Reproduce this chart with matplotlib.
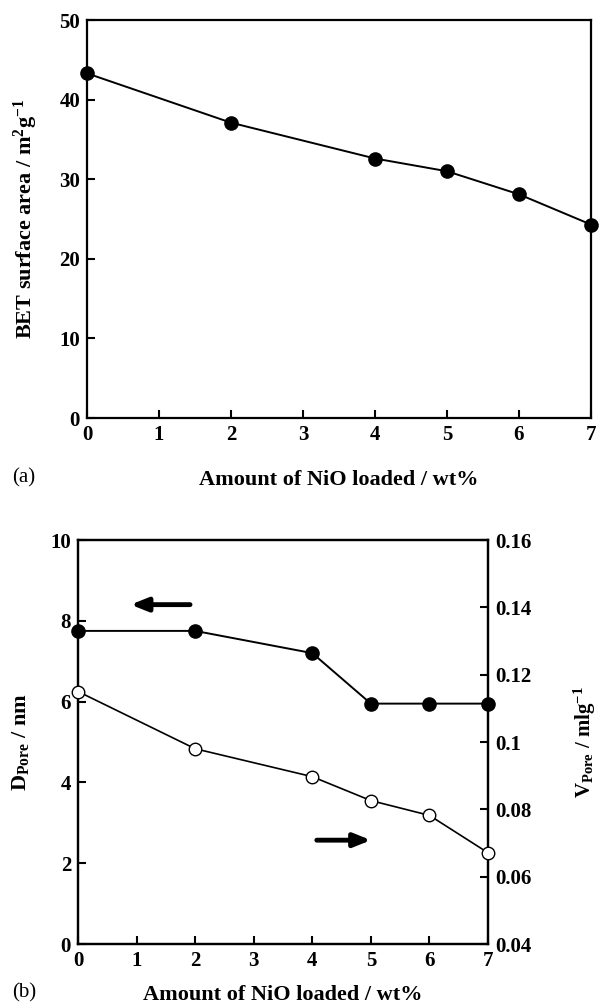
import numpy as np
import matplotlib.pyplot as plt

# (a) BET surface area
nio_a = [0, 2, 4, 5, 6, 7]
bet_area = [43.3, 37.1, 32.6, 31.0, 28.1, 24.3]

# (b) pore diameter (left axis) and pore volume (right axis)
nio_b = [0, 2, 4, 5, 6, 7]
d_pore = [7.75, 7.75, 7.2, 5.95, 5.95, 5.95]
v_pore = [0.115, 0.098, 0.0897, 0.0826, 0.0782, 0.0671]

x_ticks = [0, 1, 2, 3, 4, 5, 6, 7]
bet_ticks = [0, 10, 20, 30, 40, 50]
d_ticks = [0, 2, 4, 6, 8, 10]
v_ticks = [0.04, 0.06, 0.08, 0.1, 0.12, 0.14, 0.16]
v_labels = ['0.04', '0.06', '0.08', '0.1', '0.12', '0.14', '0.16']

plt.rcParams['font.family'] = 'Liberation Serif'
plt.rcParams['font.weight'] = 'bold'
plt.rcParams['mathtext.fontset'] = 'custom'
plt.rcParams['mathtext.rm'] = 'Liberation Serif:bold'
plt.rcParams['mathtext.it'] = 'Liberation Serif:bold'
plt.rcParams['mathtext.bf'] = 'Liberation Serif:bold'

FS = 15


def style_axis(ax):
    for s in ax.spines.values():
        s.set_linewidth(1.6)
    ax.tick_params(direction='in', length=6, width=1.5, labelsize=FS, pad=5)
    for lab in ax.get_xticklabels() + ax.get_yticklabels():
        lab.set_fontweight('bold')


fig = plt.figure(figsize=(5.99, 10.06), dpi=100)

# ---- (a)
ax1 = fig.add_axes([87 / 599, 1 - 418 / 1006, (591 - 87) / 599, (418 - 20) / 1006])
ax1.plot(nio_a, bet_area, '-o', color='black', lw=1.4, ms=9.5, clip_on=False, zorder=3)
ax1.set_xlim(0, 7)
ax1.set_ylim(0, 50)
ax1.set_xticks(x_ticks)
ax1.set_yticks(bet_ticks)
style_axis(ax1)
ax1.set_ylabel('BET surface area / m$^{2}$g$^{-1}$', fontsize=16, fontweight='bold', labelpad=14)
ax1.set_xlabel('Amount of NiO loaded / wt%', fontsize=16, fontweight='bold', labelpad=18)
fig.text(12 / 599, 1 - 478 / 1006, '(a)', fontsize=15, fontweight='normal', va='center')

# ---- (b)
ax2 = fig.add_axes([78 / 599, 1 - 944 / 1006, (488 - 78) / 599, (944 - 540) / 1006])
ax2.plot(nio_b, d_pore, '-o', color='black', lw=1.4, ms=9.5, clip_on=False, zorder=3)
ax2.set_xlim(0, 7)
ax2.set_ylim(0, 10)
ax2.set_xticks(x_ticks)
ax2.set_yticks(d_ticks)
ax2.set_ylabel('D$_{\\rm Pore}$ / nm', fontsize=16, fontweight='bold', labelpad=14)
ax2.set_xlabel('Amount of NiO loaded / wt%', fontsize=16, fontweight='bold', labelpad=10)

ax3 = ax2.twinx()
ax3.plot(nio_b, v_pore, '-o', color='black', mfc='white', lw=1.2, ms=9, clip_on=False, zorder=3)
ax3.set_ylim(0.04, 0.16)
ax3.set_yticks(v_ticks)
ax3.set_yticklabels(v_labels)
ax3.set_ylabel('V$_{\\rm Pore}$ / mlg$^{-1}$', fontsize=15, fontweight='bold', labelpad=29, rotation=90)
style_axis(ax2)
style_axis(ax3)

ax2.annotate('', xy=(0.85, 8.4), xytext=(1.96, 8.4),
             arrowprops=dict(arrowstyle='-|>,head_length=1.0,head_width=0.4', color='black', lw=3.5))
ax2.annotate('', xy=(5.05, 2.57), xytext=(4.03, 2.57),
             arrowprops=dict(arrowstyle='-|>,head_length=1.0,head_width=0.4', color='black', lw=3.5))

fig.text(12 / 599, 1 - 993 / 1006, '(b)', fontsize=15, fontweight='normal', va='center')

fig.savefig('out.png', dpi=100)
